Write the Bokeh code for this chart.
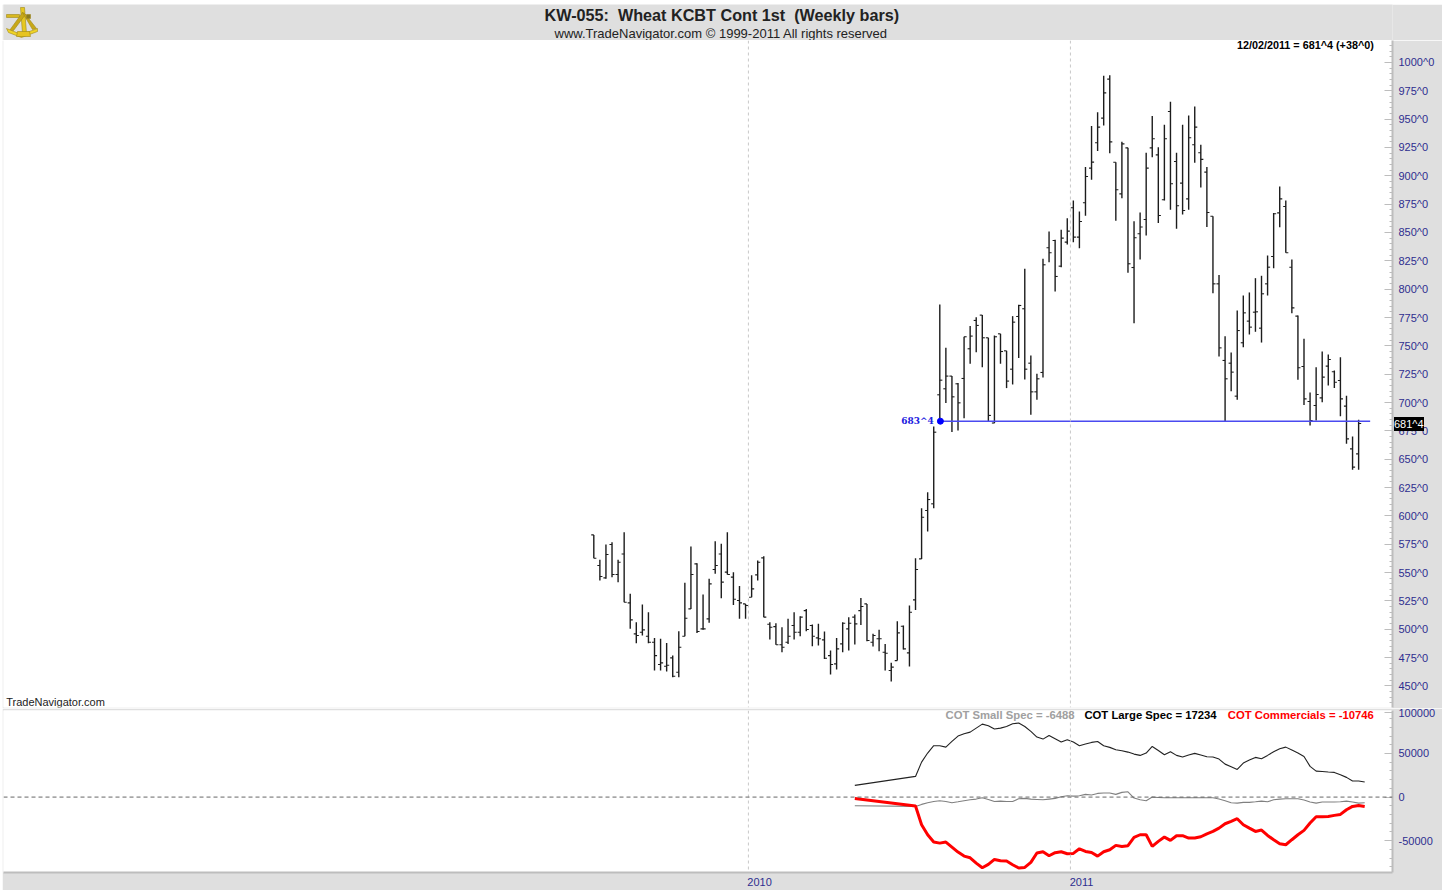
from bokeh.plotting import figure
from bokeh.layouts import column
from bokeh.models import Range1d, FixedTicker, Span, Label, ColumnDataSource, Div
from bokeh.core.properties import value
from bokeh.embed import file_html
from bokeh.resources import INLINE

title_line = "KW-055:\u00a0 Wheat KCBT Cont 1st\u00a0 (Weekly bars)"
copyright_line = "www.TradeNavigator.com \u00a9 1999-2011 All rights reserved"
status_line = "12/02/2011 = 681^4 (+38^0)"
brand_line = "TradeNavigator.com"
level_price = 683.5
level_label = "683^4"
last_label = "681^4"

bar_open = [583.2,556.2,545.3,574.7,548.2,566.4,523.2,495.9,497.3,493.8,488.5,468.8,467.3,474.7,462,493.8,517.9,557.6,500.3,509.1,552.6,566.4,550.3,545.9,525.3,522.3,528.2,547.9,562.9,504.4,502.3,486.2,488.5,503.2,497.3,516.4,503.2,492.3,490.6,476.7,469.4,487,500.3,510.6,516.4,522.3,488.5,491.5,479.7,463.5,472.3,502.6,479.1,525.9,562,604.7,610.6,706.8,712.1,723.3,716.5,721.2,747.4,772.4,777.1,757.1,681.9,760.6,745.6,729.4,775.9,782.7,734.7,709.4,726.5,836.5,842.9,820.3,841.5,871.8,845.9,876.2,906.8,929.2,950.9,985.3,912,884.1,924.7,819.1,848.9,861.5,924.7,918.5,878.9,956.8,912.7,893.6,879.7,927.4,920.3,903.3,864.4,804.7,737.1,734.7,705.6,752.7,771.8,779.7,765.6,804.7,828.8,867.3,872.9,819.4,776.2,731.8,700.9,697.4,704.1,732.1,727.1,719.4,696.8,659.1,654.7]
bar_high = [583.2,561.2,574.7,576.7,561.2,585.6,531.2,506.2,521.7,515,492.3,491.5,487.9,476.7,498.2,540.9,572.9,558.2,530.6,544.4,577.6,575.3,585.6,550.3,538.2,522.3,547.6,560.6,564.4,506.2,505.3,501.7,509.1,515,511.4,517.9,504.1,504.7,497.9,481.2,492.3,506.2,510.6,512.9,527.6,522.3,495.9,499.4,487,470.3,507,503.2,520.9,562.6,606.7,620.8,678.8,786.5,748.3,723.3,717.1,758,767.4,775.3,777.1,757.1,759.1,760.6,745.6,776.2,786.2,818,741.5,725.3,826.8,850.9,843.5,852.4,862.6,878.2,868.5,907.7,943.9,956.2,988.2,988.8,912,930,924.7,860,867.7,920.3,952.7,925.3,945,965.3,920.3,945,953.3,961.2,927.4,907.7,864.4,812.6,758.5,744.1,781.2,794.4,797.1,809.7,811.8,829.7,867.3,890.6,878.2,826.2,776.8,756.2,708.8,731.2,745,742.4,728.2,740,705.9,670,684.7]
bar_low = [562.6,542.9,544.4,545.9,541.5,523.8,500.3,487.6,494.4,487.6,463.5,463.5,462.6,457.6,457.6,493.8,517.9,496.7,499.4,505.6,548.8,527.3,548.2,521.4,509.1,509.1,528.2,542.9,510.6,490.9,486.2,479.7,487,490.9,493.8,498.2,485,485.6,473.8,460,464.4,479.7,481.2,486.5,503.8,489.4,484.7,480.6,463.5,453.8,472.3,482,467,517,562,586.1,606.7,684.2,699.5,673.9,675.3,686.2,734.2,744.4,731.2,683.3,681.8,734.2,712.7,715.9,739.2,720.3,689.2,702.4,722.1,823.8,797.9,819.4,839.4,841.5,836.2,864.7,896.5,921.8,944.4,920,860.3,880.3,814.4,770,826.2,847.4,916.5,858.3,878.3,870,853.3,865.9,870,911.5,889.7,854.8,796.5,740.6,683.5,710,702.4,748.8,760,762.4,752.9,794.4,818.5,854.7,832.1,778.8,720,697.9,679.7,684.1,700.3,715,712.7,687.9,663.5,640.6,640.6]
bar_close = [562.6,546.5,565.9,548.2,559.1,523.8,508.2,494.4,499.4,488.5,476.7,470.3,468.2,458.5,484.1,509.7,548.2,497.9,500.3,540,556.2,541.5,548.2,526.4,523.2,520.9,535.6,559.1,510.6,501.7,486.2,484.1,493.8,497.3,510.6,499.7,493.8,491.5,474.4,468.8,482.6,505.3,505.3,504.7,520,490,494.4,491.5,478.8,466.5,496.7,482.6,515,552.6,598.8,614.4,673.8,719.7,723.3,705,699.7,758,758.6,768,757.1,688.6,758,745,718.9,770.9,785.6,729.4,709.4,720.9,821.5,832.1,811.2,845,851.2,845.9,859.7,899.4,912.1,943,973.2,930,887.7,928.2,822.4,845.3,854.8,906.8,932.7,865,932.7,893,873.6,869.4,933.6,943,914.5,867.7,804.7,748.2,720.9,726.8,763.5,779.1,766.5,780,795.9,819.4,866.5,879.7,832.1,783.5,730.6,703.2,684.1,707.1,722.4,737.9,717.9,703.2,667.9,643,681.5]

cot_weeks = [43] + list(range(53, 128))
cot_large = [13.4,23.7,40.1,50.5,58.9,58.9,57.3,63.8,70,72.6,74.5,79.1,83.7,81.8,78,79.1,81,84.1,84.9,81,75.3,68.8,66.5,70.7,66.9,63.1,65.8,63.1,58.9,60.8,62.7,63.8,58.9,57,54.3,53.1,51.6,49.3,47.8,50.5,58.1,53.5,48.6,52,47.8,45.9,48.2,50.1,48.2,46.3,45.9,43.6,37.8,34.8,31.7,39,42.4,45.5,44,47.8,52,55.4,57.3,53.9,50.5,46.6,35.2,29.8,29.4,28.7,28.3,25.6,22.6,18.4,18.4,17.234]
cot_small = [-9.9,-10.7,-8.4,-6.5,-5,-4.2,-5,-6.5,-5.4,-4.2,-3.1,-2.3,-0.8,-2.7,-5,-4.6,-5,-5,-1.9,-1.5,-2.3,-2.7,-3.1,-2.3,-1.5,0.4,1.5,1.1,1.5,3.1,2.3,4.2,4.6,4.6,3.1,5.4,6.1,-1.1,-3.1,-4.2,0,-0.4,-0.8,-0.8,-0.8,-0.8,-0.8,-0.8,-0.8,-0.8,-0.8,-2.3,-4.2,-6.5,-6.9,-6.1,-6.1,-5.4,-4.6,-5.4,-3.1,-2.3,-1.9,-1.9,-1.9,-3.4,-5.7,-6.9,-5.7,-5.7,-5.7,-5.4,-4.6,-5.7,-6.9,-6.488]
cot_comm = [-1.5,-10.3,-31.7,-43.2,-51.6,-52.8,-51.6,-57.3,-63.1,-67.7,-69.6,-75.7,-81,-77.2,-71.5,-73,-73.4,-77.6,-81.4,-80.7,-74.9,-64.2,-62.7,-67.3,-63.8,-62.7,-65,-64.6,-59.3,-62.3,-63.5,-67.7,-62.7,-60.4,-55.4,-56.6,-55.8,-46.3,-43.2,-43.2,-56.6,-50.8,-45.9,-49.7,-44.3,-44.3,-47,-47,-45.5,-42.1,-39.4,-35.6,-30.6,-27.9,-24.8,-31.7,-35.6,-39.4,-37.8,-44,-48.9,-53.5,-54.7,-48.9,-43.2,-38.2,-29.8,-22.6,-22.6,-22.2,-21,-19.9,-14.5,-10.7,-9.6,-10.746]

price_ticks = list(range(450, 1001, 25))
price_labels = [f"{v}^0" for v in price_ticks]
cot_ticks = [96500, 50000, 0, -50000]
cot_labels = ["100000", "50000", "0", "-50000"]
year_grid = [25.47, 78.52]
year_ticks = [27.3, 80.35]
year_labels = ["2010", "2011"]

GREY = "#dfdfdf"
EDGE = "#bdbdbd"
NAVY = "#2e2e8f"
FONT = "Liberation Sans"
XR = Range1d(-97.25, 131.58)


def style_right_axis(ax):
    ax.axis_line_color = EDGE
    ax.axis_line_width = 2
    ax.major_tick_line_color = EDGE
    ax.minor_tick_line_color = EDGE
    ax.major_tick_in = 8
    ax.major_tick_out = 0
    ax.minor_tick_in = 3
    ax.minor_tick_out = 0
    ax.major_label_text_font = FONT
    ax.major_label_text_font_size = "11px"
    ax.major_label_text_color = NAVY
    ax.major_label_standoff = 6


# header strip: its frame lines up with the panes below, data units are page pixels
head = figure(width=1440, height=36, output_backend="svg", toolbar_location=None,
              x_range=Range1d(3, 1392), y_range=Range1d(40, 4),
              x_axis_location=None, y_axis_location=None,
              min_border_left=1, min_border_right=50, min_border_top=0, min_border_bottom=0,
              outline_line_color=None, background_fill_color=GREY, border_fill_color=GREY)
head.grid.visible = False
head.patches(
    xs=[[6, 19, 19, 6], [20, 24, 26, 22], [22, 25, 13, 9], [22, 25, 36, 32],
        [6, 21, 37, 37, 21, 8], [17, 29, 30, 16], [26, 30, 30, 26]],
    ys=[[14, 14, 17, 17], [7, 7, 33, 33], [12, 14, 30, 30], [12, 14, 28, 29],
        [28, 34, 28, 31, 37, 32], [31, 31, 36, 36], [14, 14, 18, 18]],
    fill_color=["#d8b820", "#e6c820", "#c8a818", "#c8a818", "#f0d428", "#e6c420", "#8a7a20"],
    line_color="#a08818", line_width=0.6)
head.text(x=[544], y=[14.4], text=[title_line], text_align="left", text_baseline="middle",
          text_font=value(FONT), text_font_style="bold", text_font_size="16.2px", text_color="#222222")
head.text(x=[554], y=[33], text=[copyright_line], text_align="left", text_baseline="middle",
          text_font=value(FONT), text_font_size="13px", text_color="#222222")

# price pane
p = figure(width=1440, height=668, output_backend="svg", toolbar_location=None,
           x_range=XR, y_range=Range1d(430.9, 1019.4),
           x_axis_location=None, y_axis_location="right",
           min_border_left=1, min_border_right=50, min_border_top=0, min_border_bottom=1,
           outline_line_color=None, background_fill_color="white", border_fill_color=GREY)
p.grid.visible = False
for g in year_grid:
    p.add_layout(Span(location=g, dimension="height", line_color="#c8c8c8", line_dash="3 3", line_width=1))
ax = p.yaxis[0]
ax.ticker = FixedTicker(ticks=price_ticks, minor_ticks=list(range(430, 1020, 5)))
ax.major_label_overrides = dict(zip(price_ticks, price_labels))
style_right_axis(ax)

idx = list(range(len(bar_close)))
src = ColumnDataSource(dict(i=idx, o=bar_open, h=bar_high, l=bar_low, c=bar_close,
                            il=[v - 0.42 for v in idx], ir=[v + 0.42 for v in idx]))
p.segment(x0="i", y0="l", x1="i", y1="h", source=src, line_color="#1c1c1c", line_width=1.4)
p.segment(x0="il", y0="o", x1="i", y1="o", source=src, line_color="#1c1c1c", line_width=1.1)
p.segment(x0="i", y0="c", x1="ir", y1="c", source=src, line_color="#1c1c1c", line_width=1.1)

p.line(x=[57.1, 127.9], y=[level_price, level_price], line_color="#4a4af0", line_width=1.4)
p.scatter(x=[57.1], y=[level_price], size=6, marker="circle", fill_color="#0000ff", line_color="#0000ff")
p.add_layout(Label(x=56.0, y=level_price, text=level_label, text_align="right", text_baseline="middle",
                   text_font="DejaVu Serif", text_font_style="bold", text_font_size="9px", text_color="#2020e0"))
p.add_layout(Label(x=128.5, y=1015, text=status_line, text_align="right", text_baseline="middle",
                   text_font=FONT, text_font_style="bold", text_font_size="10.8px", text_color="black"))
p.add_layout(Label(x=-96.8, y=436.1, text=brand_line, text_align="left", text_baseline="middle",
                   text_font=FONT, text_font_size="11px", text_color="#222222"))

# COT pane
q = figure(width=1440, height=182, output_backend="svg", toolbar_location=None,
           x_range=XR, y_range=Range1d(-86500, 99300),
           y_axis_location="right",
           min_border_left=1, min_border_right=50, min_border_top=2, min_border_bottom=18,
           outline_line_color=None, background_fill_color="white", border_fill_color=GREY)
q.grid.visible = False
for g in year_grid:
    q.add_layout(Span(location=g, dimension="height", line_color="#c8c8c8", line_dash="3 3", line_width=1))
q.add_layout(Span(location=0, dimension="width", line_color="#666666", line_dash="4 3", line_width=1))
ay = q.yaxis[0]
ay.ticker = FixedTicker(ticks=cot_ticks, minor_ticks=list(range(-80000, 90001, 10000)))
ay.major_label_overrides = dict(zip(cot_ticks, cot_labels))
style_right_axis(ay)
ax2 = q.xaxis[0]
ax2.ticker = FixedTicker(ticks=year_ticks)
ax2.major_label_overrides = dict(zip(year_ticks, year_labels))
ax2.axis_line_color = EDGE
ax2.axis_line_width = 2
ax2.major_tick_line_color = None
ax2.minor_tick_line_color = None
ax2.major_tick_in = 0
ax2.major_tick_out = 0
ax2.minor_tick_in = 0
ax2.minor_tick_out = 0
ax2.major_label_text_font = FONT
ax2.major_label_text_font_size = "11px"
ax2.major_label_text_color = NAVY
ax2.major_label_standoff = 5

thousands = lambda vs: [v * 1000 for v in vs]
q.line(cot_weeks, thousands(cot_small), line_color="#808080", line_width=1.1)
q.line(cot_weeks, thousands(cot_large), line_color="#222222", line_width=1.1)
q.line(cot_weeks, thousands(cot_comm), line_color="#ff0000", line_width=3)
for xr, txt, col in [(79.2, "COT Small Spec = -6488", "#a0a0a0"),
                     (102.6, "COT Large Spec = 17234", "black"),
                     (128.5, "COT Commercials = -10746", "#ff0000")]:
    q.add_layout(Label(x=xr, y=94400, text=txt, text_align="right", text_baseline="middle",
                       text_font=FONT, text_font_style="bold", text_font_size="11.3px", text_color=col))

last_box = Div(text=last_label, width=30, height=14,
               styles={"position": "absolute", "left": "1387px", "top": "408px", "z-index": "10",
                       "background-color": "black", "color": "white", "font-family": FONT,
                       "font-size": "11px", "line-height": "14px", "overflow": "hidden"})
root = column(head, p, q, last_box, spacing=0, margin=(4, 0, 0, 2))
open("out.html", "w").write(file_html(root, INLINE))
